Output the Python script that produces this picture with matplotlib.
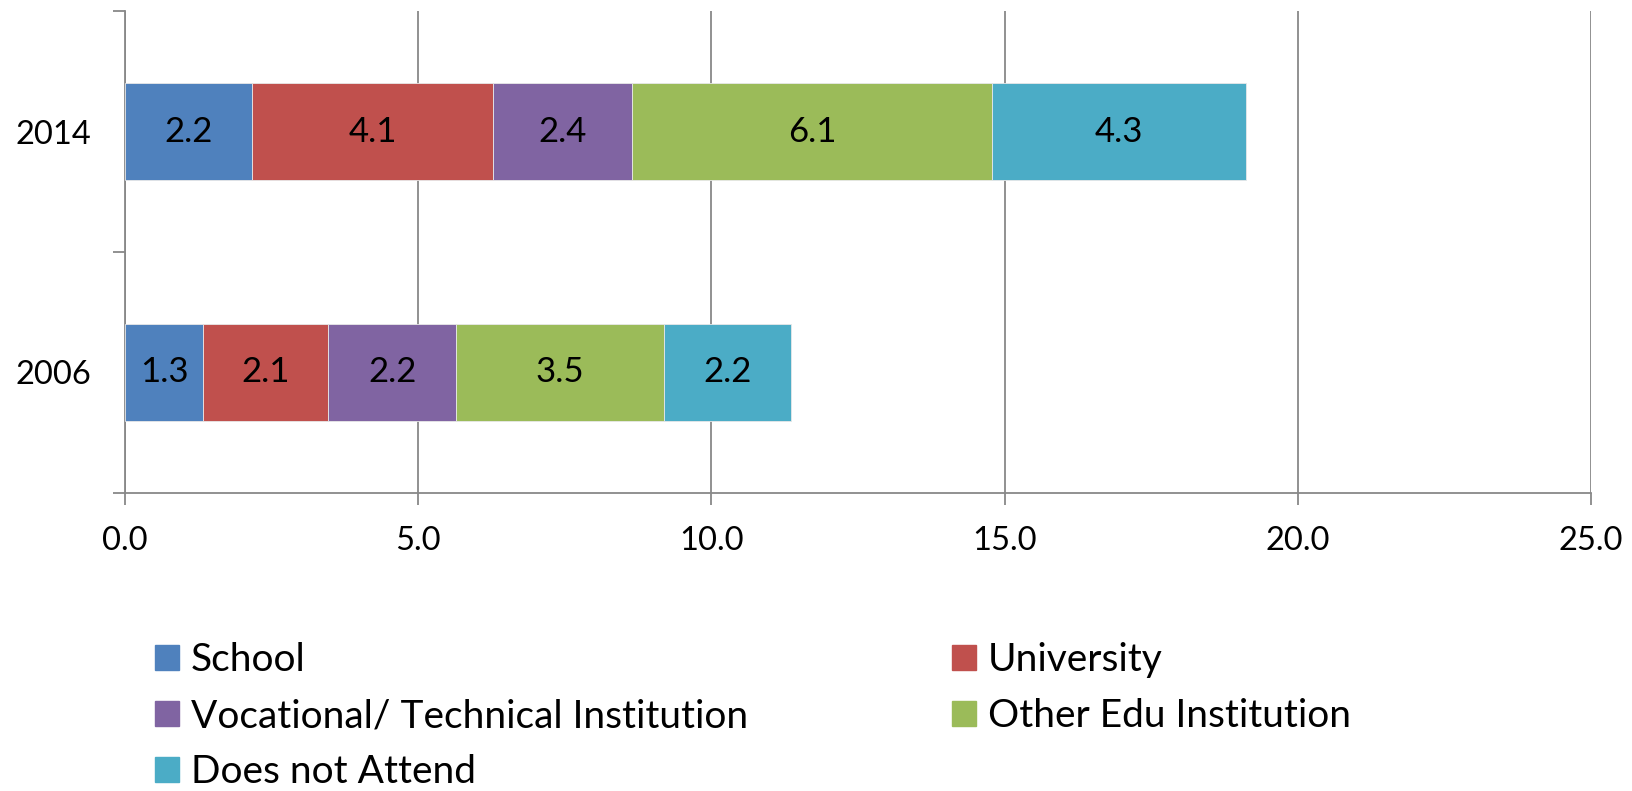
#!/usr/bin/env python3
"""Stacked horizontal bars: attendance by institution type, 2006 vs 2014 -> out.png"""
import matplotlib
matplotlib.use("Agg")
import matplotlib.pyplot as plt
import numpy as np
from matplotlib.patches import Patch

years = ["2006", "2014"]
categories = ["School", "University", "Vocational/ Technical Institution",
              "Other Edu Institution", "Does not Attend"]
school = [1.33, 2.17]
university = [2.14, 4.10]
vocational = [2.18, 2.38]
other_edu = [3.54, 6.14]
not_attend = [2.16, 4.33]
series = [school, university, vocational, other_edu, not_attend]
xticks = [0, 5, 10, 15, 20, 25]

COLORS = ["#4F81BD", "#C0504D", "#8064A2", "#9BBB59", "#4BACC6"]
GRID = "#888888"
FS = 23.5
plt.rcParams.update({"font.family": ["Lato", "DejaVu Sans"], "font.size": FS})

fig = plt.figure(figsize=(16.32, 7.91), dpi=100)
ax = fig.add_axes([125 / 1632, 1 - 493 / 791, (1591 - 125) / 1632, (493 - 11) / 791])

y = np.arange(len(years))
left = np.zeros(len(years))
for vals, col in zip(series, COLORS):
    v = np.array(vals)
    ax.barh(y, v, 0.4, left=left, color=col, edgecolor="#e8e8e8", linewidth=0.6, zorder=3)
    for yi, (l, w) in enumerate(zip(left, v)):
        ax.text(l + w / 2, yi, f"{w:.1f}", ha="center", va="center", fontsize=25, zorder=4)
    left += v

ax.set_xlim(0, 25); ax.set_ylim(-0.5, 1.5)
ax.set_xticks(xticks); ax.set_xticklabels([f"{t:.1f}" for t in xticks])
ax.set_yticks(y); ax.set_yticklabels(years)
ax.set_yticks([-0.5, 0.5, 1.5], minor=True)
ax.tick_params(axis="y", which="major", length=0, pad=24)
ax.tick_params(axis="y", which="minor", length=8.6, width=1.3, color=GRID)
ax.tick_params(axis="x", length=8.6, width=1.3, color=GRID, pad=15)
ax.grid(axis="x", color=GRID, lw=1.3, zorder=0); ax.set_axisbelow(True)
for s in ("top", "right"):
    ax.spines[s].set_visible(False)
for s in ("left", "bottom"):
    ax.spines[s].set_color(GRID); ax.spines[s].set_linewidth(1.3)

handles = [Patch(color=c) for c in COLORS]
kw = dict(frameon=False, loc="upper left", borderpad=0, borderaxespad=0, fontsize=28,
          handlelength=0.62, handleheight=0.62, handletextpad=0.3, labelspacing=0.52)
fig.legend([handles[i] for i in (0, 2, 4)], [categories[i] for i in (0, 2, 4)],
           bbox_to_anchor=(155 / 1632, 1 - 642 / 791), **kw)
fig.legend([handles[i] for i in (1, 3)], [categories[i] for i in (1, 3)],
           bbox_to_anchor=(952 / 1632, 1 - 642 / 791), **kw)

fig.savefig("out.png", dpi=100)
